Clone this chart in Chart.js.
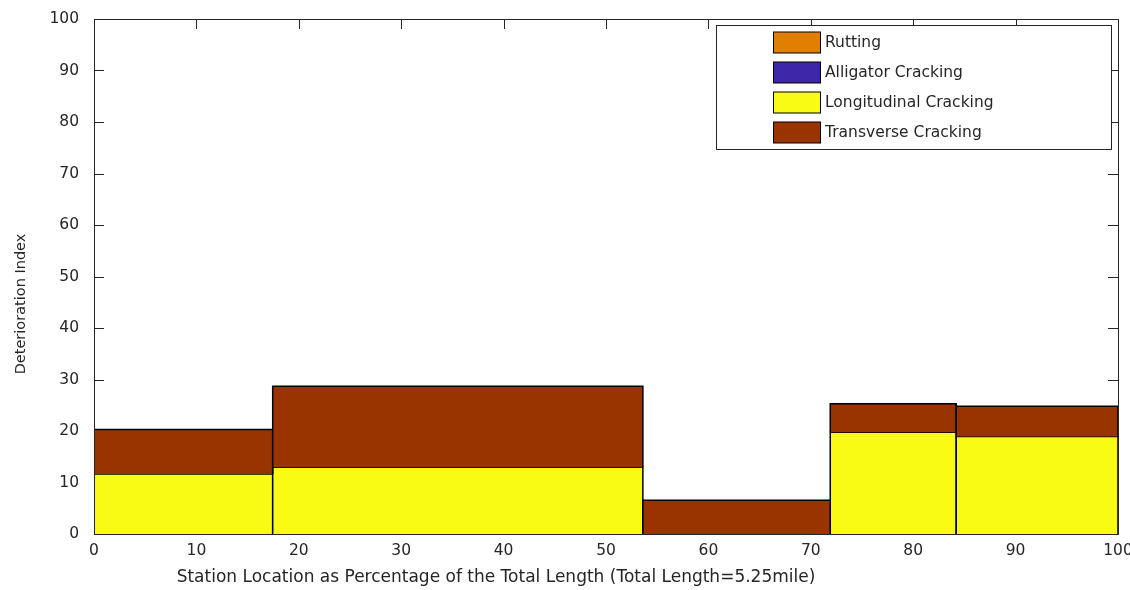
<!DOCTYPE html>
<html><head><meta charset="utf-8">
<script src="https://cdn.jsdelivr.net/npm/chart.js@4.4.1/dist/chart.umd.min.js"></script>
<style>html,body{margin:0;padding:0;background:#fff}#wrap{width:1130px;height:590px}</style>
</head><body><div id="wrap"><canvas id="c" width="1130" height="590"></canvas></div>
<script>
// ---- data ----
const stationEdges = [0, 17.45, 53.6, 71.9, 84.2, 100];
const rutting = [0, 0, 0, 0, 0];
const alligatorCracking = [0, 0, 0, 0, 0];
const longitudinalCracking = [11.65, 12.95, 0, 19.75, 18.93];
const transverseCracking = [8.65, 15.73, 6.54, 5.55, 5.87];
const xTickValues = [0, 10, 20, 30, 40, 50, 60, 70, 80, 90, 100];
const yTickValues = [0, 10, 20, 30, 40, 50, 60, 70, 80, 90, 100];
const seriesNames = ['Rutting', 'Alligator Cracking', 'Longitudinal Cracking', 'Transverse Cracking'];
const seriesColors = ['#E08000', '#3E26A8', '#F9FB15', '#993300'];
const seriesValues = [rutting, alligatorCracking, longitudinalCracking, transverseCracking];
const xTitle = 'Station Location as Percentage of the Total Length (Total Length=5.25mile)';
const yTitle = 'Deterioration Index';

const FONT = 'DejaVu Sans';
const TEXT = '#262626';
const AXIS = '#262626';

// build stacked rectangles (one dataset per segment)
const datasets = [];
const base = stationEdges.slice(0, -1).map(() => 0);
seriesValues.forEach((vals, s) => {
  vals.forEach((v, i) => {
    const b = base[i], t = b + v;
    const x0 = stationEdges[i], x1 = stationEdges[i + 1];
    datasets.push({
      label: seriesNames[s],
      data: [{x: x0, y: b}, {x: x0, y: t}, {x: x1, y: t}, {x: x1, y: b}],
      fill: {value: b},
      backgroundColor: seriesColors[s],
      borderColor: '#000',
      borderWidth: 1.5,
      pointRadius: 0,
      pointHoverRadius: 0,
      tension: 0,
      order: 100 - datasets.length
    });
    base[i] = t;
  });
});

const frame = {
  id: 'frame',
  beforeDatasetsDraw(chart) {
    const {ctx, chartArea: a, scales: {x, y}} = chart;
    ctx.save();
    ctx.strokeStyle = AXIS; ctx.lineWidth = 1;
    ctx.beginPath();
    xTickValues.forEach(v => {
      const px = Math.round(x.getPixelForValue(v)) + 0.5;
      ctx.moveTo(px, a.bottom); ctx.lineTo(px, a.bottom - 10);
      ctx.moveTo(px, a.top); ctx.lineTo(px, a.top + 10);
    });
    yTickValues.forEach(v => {
      const py = Math.round(y.getPixelForValue(v)) + 0.5;
      ctx.moveTo(a.left, py); ctx.lineTo(a.left + 10, py);
      ctx.moveTo(a.right, py); ctx.lineTo(a.right - 10, py);
    });
    ctx.stroke();
    ctx.restore();
  },
  afterDatasetsDraw(chart) {
    const {ctx, chartArea: a} = chart;
    ctx.save();
    ctx.strokeStyle = AXIS; ctx.lineWidth = 1;
    ctx.strokeRect(Math.round(a.left) + 0.5, Math.round(a.top) + 0.5, Math.round(a.right - a.left), Math.round(a.bottom - a.top));
    ctx.restore();
  },
  afterDraw(chart) {
    const {ctx} = chart;
    ctx.save();
    // axis titles
    ctx.fillStyle = TEXT;
    ctx.textAlign = 'center';
    ctx.textBaseline = 'middle';
    ctx.font = '17px "' + FONT + '"';
    ctx.fillText(xTitle, 496, 578);
    ctx.save();
    ctx.translate(21, 304);
    ctx.rotate(-Math.PI / 2);
    ctx.font = '14.5px "' + FONT + '"';
    ctx.fillText(yTitle, 0, 0);
    ctx.restore();
    // legend
    const bx = 716.5, by = 25.5, bw = 395, bh = 124;
    ctx.fillStyle = '#fff';
    ctx.fillRect(bx, by, bw, bh);
    ctx.strokeStyle = AXIS; ctx.lineWidth = 1;
    ctx.strokeRect(bx, by, bw, bh);
    ctx.font = '15.5px "' + FONT + '"';
    ctx.textBaseline = 'middle';
    ctx.textAlign = 'left';
    seriesNames.forEach((name, i) => {
      const cy = 42.5 + i * 30;
      ctx.fillStyle = seriesColors[i];
      ctx.fillRect(773.5, cy - 10.5, 47, 21);
      ctx.strokeStyle = '#000';
      ctx.strokeRect(773.5, cy - 10.5, 47, 21);
      ctx.fillStyle = TEXT;
      ctx.fillText(name, 825, cy);
    });
    ctx.restore();
  }
};

new Chart(document.getElementById('c'), {
  type: 'line',
  data: {datasets},
  options: {
    responsive: false,
    animation: false,
    devicePixelRatio: 1,
    layout: {padding: {top: 19, right: 12, left: 0, bottom: 0}},
    plugins: {legend: {display: false}, tooltip: {enabled: false}},
    scales: {
      x: {
        type: 'linear', min: 0, max: 100,
        grid: {display: false, drawTicks: false},
        border: {display: false},
        afterBuildTicks: s => { s.ticks = xTickValues.map(v => ({value: v})); },
        ticks: {padding: 8, color: TEXT, font: {family: FONT, size: 15.5}, maxRotation: 0, autoSkip: false},
        title: {display: false},
        afterFit: s => { s.height = 56; s.paddingLeft = 0; s.paddingRight = 0; }
      },
      y: {
        type: 'linear', min: 0, max: 100,
        grid: {display: false, drawTicks: false},
        border: {display: false},
        afterBuildTicks: s => { s.ticks = yTickValues.map(v => ({value: v})); },
        ticks: {padding: 15, color: TEXT, font: {family: FONT, size: 15.5}, autoSkip: false},
        title: {display: false},
        afterFit: s => { s.width = 94; s.paddingTop = 0; s.paddingBottom = 0; }
      }
    }
  },
  plugins: [frame]
});
</script>
</body></html>
